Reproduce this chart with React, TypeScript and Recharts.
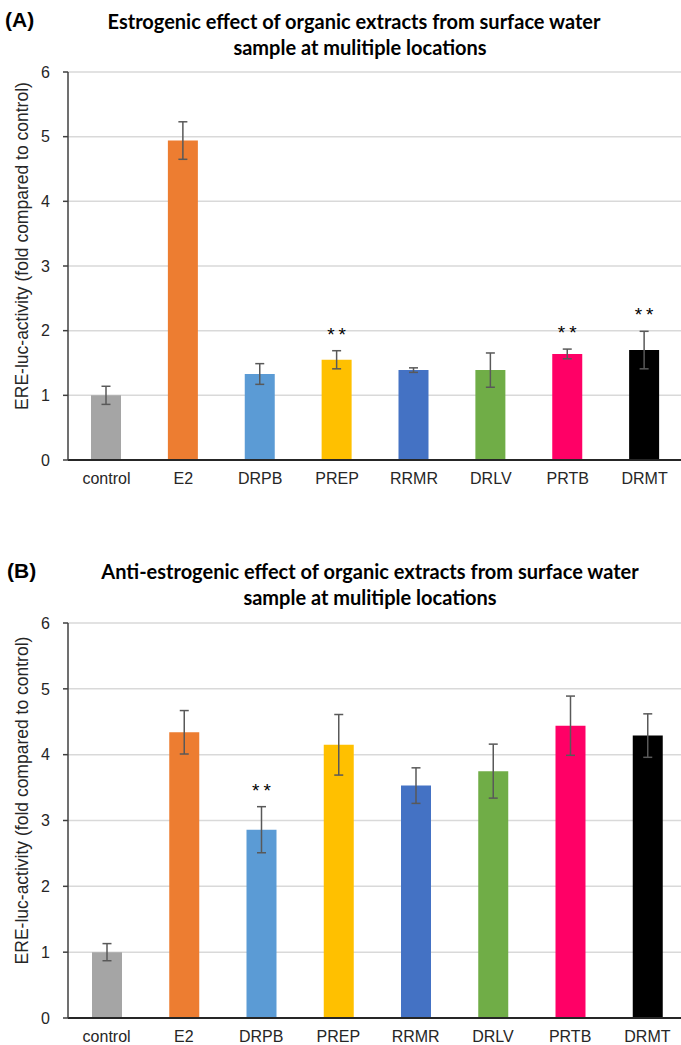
import React from 'react';
import { BarChart, Bar, XAxis, YAxis, CartesianGrid, ErrorBar, Cell, LabelList, Label } from 'recharts';

// sampling sites and their bar colours
const sites = ['control', 'E2', 'DRPB', 'PREP', 'RRMR', 'DRLV', 'PRTB', 'DRMT'];
const barColors = ['#a5a5a5', '#ed7d31', '#5b9bd5', '#ffc000', '#4472c4', '#70ad47', '#ff0066', '#000000'];

// (A) estrogenic effect
const estroMean = [1.0, 4.94, 1.33, 1.55, 1.39, 1.39, 1.64, 1.7];
const estroErr = [0.14, 0.29, 0.16, 0.14, 0.035, 0.265, 0.075, 0.29];
const estroSig = ['', '', '', '**', '', '', '**', '**'];

// (B) anti-estrogenic effect
const antiMean = [1.0, 4.34, 2.86, 4.15, 3.53, 3.75, 4.44, 4.29];
const antiErr = [0.13, 0.33, 0.35, 0.46, 0.27, 0.41, 0.45, 0.33];
const antiSig = ['', '', '**', '', '', '', '', ''];

const yTicks = [0, 1, 2, 3, 4, 5, 6];
const yLabel = 'ERE-luc-activity (fold compared to control)';

const buildRows = (mean: number[], err: number[], sig: string[]) =>
  sites.map((site, i) => ({ site, mean: mean[i], err: err[i], sig: sig[i] }));

const estroRows = buildRows(estroMean, estroErr, estroSig);
const antiRows = buildRows(antiMean, antiErr, antiSig);

const axisFont = '"Liberation Sans", Arial, sans-serif';
const titleFont = 'Lato, "Noto Sans", sans-serif';

function Panel({ rows, width, marginTop, xHeight, tickGap }: any) {
  // stars sit above the error bar top
  const renderStar = (props: any) => {
    const vb = props.viewBox || props;
    const row = rows[props.index];
    if (!row || !row.sig) return null;
    const ppu = vb.height / row.mean;
    const yTop = vb.y - row.err * ppu;
    return (
      <text
        x={vb.x + vb.width / 2 + 2}
        y={yTop - 10}
        textAnchor="middle"
        fontSize={19}
        letterSpacing={4}
        fontFamily={axisFont}
        fill="#000"
      >
        {row.sig}
      </text>
    );
  };

  const renderYLabel = (props: any) => {
    const vb = props.viewBox;
    const cx = 22;
    const cy = vb.y + vb.height / 2 - 20;
    return (
      <text
        x={cx}
        y={cy}
        transform={`rotate(-90, ${cx}, ${cy})`}
        textAnchor="middle"
        dominantBaseline="central"
        fontSize={17.5}
        fontFamily={axisFont}
        fill="#262626"
      >
        {yLabel}
      </text>
    );
  };

  return (
    <BarChart
      width={width}
      height={500}
      data={rows}
      margin={{ top: marginTop, right: 0, left: 0, bottom: 0 }}
    >
      <CartesianGrid vertical={false} stroke="#d9d9d9" strokeWidth={1.5} />
      <XAxis
        dataKey="site"
        height={xHeight}
        tickLine={false}
        tickSize={0}
        tickMargin={tickGap}
        axisLine={{ stroke: '#262626', strokeWidth: 2 }}
        tick={{ fill: '#262626', fontSize: 16, fontFamily: axisFont }}
        interval={0}
      />
      <YAxis
        width={68}
        domain={[0, 6]}
        ticks={yTicks}
        tickSize={5}
        tickMargin={13}
        axisLine={{ stroke: '#404040', strokeWidth: 1.5 }}
        tickLine={{ stroke: '#404040', strokeWidth: 1.5 }}
        tick={{ fill: '#262626', fontSize: 16, fontFamily: axisFont }}
      >
        <Label content={renderYLabel} />
      </YAxis>
      <Bar dataKey="mean" barSize={30} isAnimationActive={false}>
        {rows.map((r: any, i: number) => (
          <Cell key={r.site} fill={barColors[i]} />
        ))}
        <ErrorBar dataKey="err" width={4.5} stroke="#595959" strokeWidth={1.5} direction="y" />
        <LabelList dataKey="sig" content={renderStar} />
      </Bar>
    </BarChart>
  );
}

const titleLine: React.CSSProperties = {
  position: 'absolute',
  transform: 'translate(-50%, -50%)',
  whiteSpace: 'nowrap',
  fontFamily: titleFont,
  fontWeight: 700,
  fontSize: 20,
  color: '#000',
};

const panelTag: React.CSSProperties = {
  position: 'absolute',
  transform: 'translateY(-50%)',
  fontFamily: axisFont,
  fontWeight: 700,
  fontSize: 21,
  color: '#000',
};

export default function App() {
  return (
    <div
      style={{
        position: 'absolute',
        left: 0,
        top: 0,
        width: 681,
        height: 1045,
        overflow: 'hidden',
        background: '#fff',
      }}
    >
      <div style={{ ...panelTag, left: 5, top: 20 }}>(A)</div>
      <div style={{ ...titleLine, left: 354, top: 21 }}>
        Estrogenic effect of organic extracts from surface water
      </div>
      <div style={{ ...titleLine, left: 360, top: 47 }}>sample at mulitiple locations</div>
      <div style={{ position: 'absolute', left: 0, top: 0 }}>
        <Panel rows={estroRows} width={683} marginTop={72} xHeight={40} tickGap={13} />
      </div>

      <div style={{ ...panelTag, left: 7, top: 571 }}>(B)</div>
      <div style={{ ...titleLine, left: 370, top: 571 }}>
        Anti-estrogenic effect of organic extracts from surface water
      </div>
      <div style={{ ...titleLine, left: 370, top: 597 }}>sample at mulitiple locations</div>
      <div style={{ position: 'absolute', left: 0, top: 545 }}>
        <Panel rows={antiRows} width={686} marginTop={78} xHeight={27} tickGap={13} />
      </div>
    </div>
  );
}
